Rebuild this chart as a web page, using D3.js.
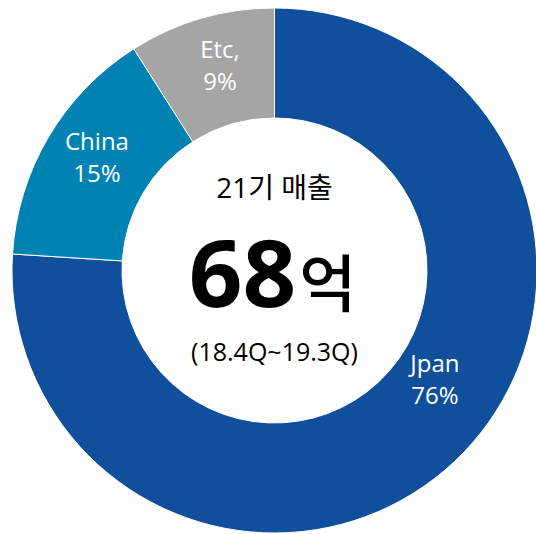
<!DOCTYPE html>
<html><head><meta charset="utf-8">
<script src="https://cdn.jsdelivr.net/npm/d3@7"></script>
<style>
html,body{margin:0;padding:0;background:#fff;}
svg{display:block;}
text{font-family:"Open Sans","Noto Sans","Noto Sans CJK KR",sans-serif;}
</style></head>
<body>
<svg id="chart" width="536" height="534"></svg>
<script>
// Data
const categories = ["Jpan", "China", "Etc"];
const shares = [76, 15, 9];
const labelLines = [["Jpan", "76%"], ["China", "15%"], ["Etc,", "9%"]];
const centerTitle = "21기 매출";
const centerValue = "68";
const centerUnit = "억";
const centerPeriod = "(18.4Q~19.3Q)";

// Styles
const colors = {Jpan: "#0f4f9b", China: "#0083b3", Etc: "#a5a5a5"};
const cx = 274.5, cy = 270.5, outerR = 262.5, innerR = 152.5;
const labelR = 208;
const labelNudge = {Jpan: [18, -48], China: [1.5, -12.5], Etc: [3.5, -11]};

const svg = d3.select("#chart");
const g = svg.append("g").attr("transform", `translate(${cx},${cy})`);

const data = categories.map((c, i) => ({cat: c, value: shares[i], lines: labelLines[i]}));
const pie = d3.pie().sort(null).value(d => d.value).startAngle(0).endAngle(2 * Math.PI);
const arc = d3.arc().innerRadius(innerR).outerRadius(outerR);
const labelArc = d3.arc().innerRadius(labelR).outerRadius(labelR);
const arcs = pie(data);

g.selectAll("path.slice").data(arcs).join("path")
  .attr("class", "slice")
  .attr("d", arc)
  .attr("fill", d => colors[d.data.cat])
  .attr("stroke", "#fff")
  .attr("stroke-width", 1);

const lbl = g.selectAll("text.lbl").data(arcs).join("text")
  .attr("class", "lbl")
  .attr("text-anchor", "middle")
  .attr("fill", "#fff")
  .attr("font-size", 24)
  .attr("transform", d => {
    const [x, y] = labelArc.centroid(d);
    const n = labelNudge[d.data.cat];
    return `translate(${x + n[0]},${y + n[1]})`;
  });
lbl.each(function(d) {
  const t = d3.select(this);
  d.data.lines.forEach((line, i) => {
    t.append("tspan").attr("x", 0).attr("y", i === 0 ? -2 : 30).text(line);
  });
});

// Center text
g.append("text")
  .attr("text-anchor", "middle")
  .attr("y", -72.5)
  .attr("font-size", 28)
  .attr("fill", "#000")
  .text(centerTitle);

const big = g.append("text")
  .attr("text-anchor", "middle")
  .attr("x", -2)
  .attr("y", 36.5)
  .attr("fill", "#000");
big.append("tspan").attr("font-size", 94).attr("font-weight", 700).text(centerValue);
big.append("tspan").attr("dx", 3).attr("font-size", 62).attr("font-family", "'Noto Sans CJK KR',sans-serif").attr("font-weight", 500).text(centerUnit);

g.append("text")
  .attr("text-anchor", "middle")
  .attr("y", 90)
  .attr("font-size", 25)
  .attr("fill", "#000")
  .text(centerPeriod);
</script>
</body></html>
